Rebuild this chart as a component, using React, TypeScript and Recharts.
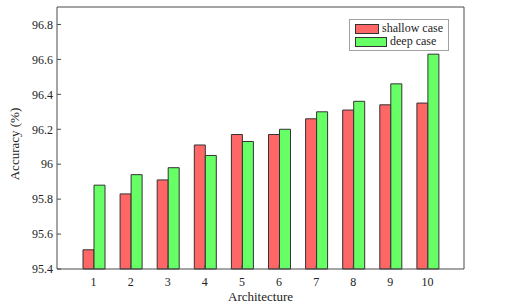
import React from 'react'
import { Bar, BarChart, Legend, XAxis, YAxis } from 'recharts'

const architectures = ['1', '2', '3', '4', '5', '6', '7', '8', '9', '10']
const shallowCase = [95.51, 95.83, 95.91, 96.11, 96.17, 96.17, 96.26, 96.31, 96.34, 96.35]
const deepCase = [95.88, 95.94, 95.98, 96.05, 96.13, 96.2, 96.3, 96.36, 96.46, 96.63]
const yTicks = [95.4, 95.6, 95.8, 96, 96.2, 96.4, 96.6, 96.8]
const seriesOrder = ['shallow', 'deep']

const data = architectures.map((name, i) => ({
  name,
  shallow: shallowCase[i],
  deep: deepCase[i],
}))

const serif = "Liberation Serif, DejaVu Serif, serif"
const axisColor = '#4a4a4a'
const tickStyle = { fontSize: 12, fill: '#222', style: { fontFamily: serif } }

const LegendBox = (props: any) => {
  const items = [...(props.payload || [])].sort(
    (a: any, b: any) => seriesOrder.indexOf(a.dataKey) - seriesOrder.indexOf(b.dataKey)
  )
  return (
    <div
      style={{
        border: '1px solid #a0a0a0',
        background: '#fff',
        padding: '2px 5px',
        fontFamily: serif,
        fontSize: 12,
        color: '#222',
        boxSizing: 'border-box',
        width: 100,
        whiteSpace: 'nowrap',
      }}
    >
      {items.map((item: any) => (
        <div key={item.value} style={{ display: 'flex', alignItems: 'center', height: 13 }}>
          <span
            style={{
              display: 'inline-block',
              width: 30,
              height: 8,
              background: item.color,
              border: '1px solid #333',
              marginRight: 3,
            }}
          />
          <span>{item.value}</span>
        </div>
      ))}
    </div>
  )
}

export default function App() {
  return (
    <div style={{ position: 'absolute', left: 0, top: 0, fontFamily: serif }}>
      <BarChart
        width={518}
        height={306}
        data={data}
        margin={{ top: 6, right: 53, bottom: 0, left: 0 }}
        barGap={0}
        style={{ fontFamily: serif }}
      >
        <XAxis
          xAxisId="bottom"
          dataKey="name"
          height={37}
          padding={{ left: 18, right: 18 }}
          stroke={axisColor}
          tickSize={-4}
          tickMargin={12}
          tick={tickStyle}
          label={(p: any) => {
            const vb = p.viewBox
            return (
              <text x={vb.x + vb.width / 2} y={301} textAnchor="middle" style={{ fontFamily: serif }} fontSize={13} fill="#222">
                Architecture
              </text>
            )
          }}
        />
        <XAxis
          xAxisId="top"
          orientation="top"
          dataKey="name"
          height={1}
          padding={{ left: 18, right: 18 }}
          stroke={axisColor}
          tickSize={-4}
          tick={false}
        />
        <YAxis
          yAxisId="left"
          width={57}
          domain={[95.4, 96.9]}
          ticks={yTicks}
          stroke={axisColor}
          tickSize={-4}
          tickMargin={8}
          tick={tickStyle}
          label={(p: any) => {
            const vb = p.viewBox
            const x = vb.x + 19
            const y = vb.y + vb.height / 2 + 6
            return (
              <text x={x} y={y} transform={`rotate(-90 ${x} ${y})`} textAnchor="middle" style={{ fontFamily: serif }} fontSize={13} fill="#222">
                Accuracy (%)
              </text>
            )
          }}
        />
        <YAxis
          yAxisId="right"
          orientation="right"
          width={1}
          domain={[95.4, 96.9]}
          ticks={yTicks}
          stroke={axisColor}
          tickSize={-4}
          tick={false}
        />
        <Legend
          layout="vertical"
          align="center"
          verticalAlign="middle"
          content={<LegendBox />}
          wrapperStyle={{ position: 'absolute', left: 349, top: 19, width: 100 }}
        />
        <Bar
          xAxisId="bottom"
          yAxisId="left"
          dataKey="shallow"
          name="shallow case"
          fill="#ff6666"
          stroke="#333"
          strokeWidth={1}
          barSize={11}
          isAnimationActive={false}
        />
        <Bar
          xAxisId="bottom"
          yAxisId="left"
          dataKey="deep"
          name="deep case"
          fill="#66ff66"
          stroke="#333"
          strokeWidth={1}
          barSize={11}
          isAnimationActive={false}
        />
      </BarChart>
    </div>
  )
}
